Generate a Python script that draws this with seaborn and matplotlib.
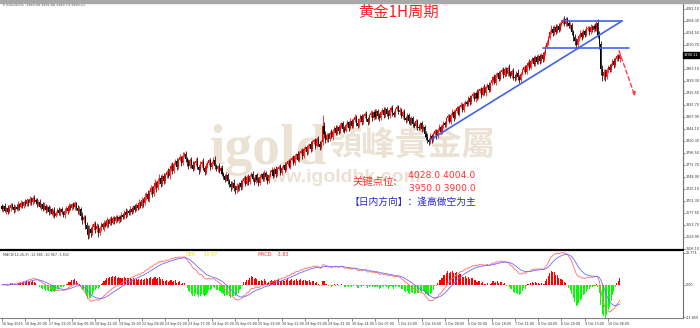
import numpy as np
import pandas as pd
import matplotlib
matplotlib.use("Agg")
import matplotlib.pyplot as plt
import matplotlib.transforms as mtransforms
import seaborn as sns

# ---------------- data ----------------
first_open = 3690.0
closes = [
    3684, 3690, 3681, 3687, 3679, 3686, 3693, 3688, 3682, 3689, 3685, 3694, 3689, 3697, 3690, 3698,
    3694, 3702, 3696, 3704, 3698, 3707, 3699, 3703, 3694, 3698, 3689, 3694, 3685, 3691, 3683, 3688,
    3679, 3684, 3675, 3681, 3671, 3677, 3683, 3676, 3684, 3678, 3672, 3680, 3687, 3681, 3690, 3686,
    3694, 3688, 3696, 3687, 3680, 3684, 3671, 3662, 3668, 3652, 3644, 3633, 3645, 3637, 3649, 3654,
    3644, 3650, 3636, 3646, 3654, 3648, 3657, 3651, 3662, 3655, 3664, 3657, 3667, 3660, 3668, 3661,
    3669, 3664, 3673, 3668, 3679, 3672, 3681, 3676, 3685, 3679, 3690, 3683, 3692, 3687, 3697, 3690,
    3703, 3696, 3709, 3714, 3705, 3719, 3726, 3715, 3730, 3736, 3726, 3741, 3746, 3735, 3749, 3740,
    3751, 3758, 3749, 3764, 3770, 3760, 3774, 3779, 3768, 3782, 3787, 3776, 3790, 3794, 3783, 3777,
    3770, 3781, 3772, 3764, 3776, 3780, 3768, 3761, 3773, 3778, 3765, 3758, 3769, 3775, 3781, 3768,
    3776, 3782, 3770, 3763, 3769, 3760, 3765, 3754, 3750, 3743, 3752, 3741, 3735, 3728, 3737, 3726,
    3722, 3730, 3724, 3736, 3728, 3740, 3746, 3735, 3747, 3738, 3750, 3754, 3744, 3739, 3751, 3743,
    3737, 3748, 3753, 3744, 3756, 3747, 3740, 3751, 3757, 3761, 3750, 3763, 3753, 3764, 3768, 3756,
    3766, 3771, 3762, 3774, 3779, 3768, 3782, 3786, 3775, 3789, 3793, 3782, 3796, 3800, 3789, 3803,
    3807, 3797, 3809, 3813, 3803, 3817, 3821, 3810, 3823, 3814, 3808, 3817, 3850, 3834, 3822, 3831,
    3824, 3836, 3828, 3840, 3845, 3835, 3848, 3839, 3850, 3855, 3844, 3840, 3852, 3857, 3846, 3859,
    3849, 3861, 3866, 3855, 3850, 3862, 3868, 3857, 3869, 3873, 3862, 3858, 3870, 3875, 3864, 3877,
    3866, 3879, 3869, 3864, 3876, 3881, 3870, 3883, 3873, 3868, 3880, 3885, 3874, 3870, 3882, 3887,
    3876, 3880, 3868, 3877, 3865, 3861, 3871, 3860, 3855, 3865, 3853, 3849, 3859, 3848, 3845, 3855,
    3843, 3847, 3834, 3828, 3822, 3818, 3830, 3822, 3834, 3839, 3829, 3842, 3847, 3837, 3850, 3855,
    3851, 3864, 3868, 3858, 3871, 3876, 3865, 3879, 3884, 3873, 3887, 3891, 3880, 3893, 3897, 3892,
    3904, 3896, 3908, 3912, 3902, 3915, 3905, 3918, 3922, 3911, 3925, 3914, 3927, 3931, 3920, 3934,
    3940, 3946, 3935, 3950, 3954, 3943, 3957, 3961, 3950, 3962, 3952, 3965, 3954, 3948, 3959, 3947,
    3944, 3955, 3946, 3941, 3953, 3961, 3966, 3956, 3970, 3975, 3965, 3978, 3983, 3972, 3986, 3976,
    3987, 3978, 3990, 3981, 3994, 4006, 4014, 4024, 4036, 4042, 4033, 4045, 4036, 4048, 4040, 4051,
    4054, 4060, 4051, 4061, 4053, 4047, 4049, 4036, 4025, 4017, 4010, 4021, 4028, 4034, 4026, 4038,
    4030, 4041, 4044, 4035, 4046, 4039, 4048, 4041, 4054, 4030, 4012, 3962, 3948, 3957, 3946, 3960,
    3967, 3960, 3972, 3978, 3970, 3982, 3987, 3981, 3990.11,
]
upper_wick = [
    4,3,6,2,5,7,3,4,6,3,5,7,3,5,4,3,
    6,4,3,7,4,3,5,4,3,5,6,3,4,7,3,4,
    4,6,3,4,7,3,4,6,3,5,3,6,4,3,6,4,
    3,5,4,3,5,6,4,7,5,4,6,8,7,4,6,5,
    6,7,4,5,4,3,6,4,7,3,4,6,3,4,5,4,
    4,3,6,4,3,7,4,3,6,4,3,5,4,3,7,4,
    6,4,7,5,8,4,7,5,4,8,5,4,7,5,4,7,
    5,4,7,3,6,8,4,5,7,4,6,3,7,4,6,4,
    7,4,6,8,4,5,7,4,6,3,7,4,6,4,3,5,
    4,6,7,4,3,6,4,7,3,4,6,4,3,6,4,7,
    6,7,4,3,6,4,3,5,4,7,3,4,6,4,3,5,
    4,6,3,4,5,4,7,3,4,6,3,4,6,3,4,5,
    4,3,6,4,3,5,4,3,6,4,3,7,4,3,5,4,
    3,5,4,3,6,4,3,5,4,7,5,4,20,7,5,4,
    5,4,7,3,4,6,3,4,5,3,4,6,3,4,3,5,
    4,3,6,4,7,3,4,5,3,4,6,4,3,5,4,3,
    5,4,3,6,4,3,5,4,3,7,4,3,5,4,3,4,
    4,6,4,3,5,4,3,4,6,3,4,5,3,4,6,3,
    4,5,4,5,7,4,6,4,3,5,4,3,6,4,3,5,
    4,3,5,4,3,6,4,3,5,4,3,6,4,3,4,3,
    4,6,3,4,5,3,7,4,3,5,4,7,3,4,6,3,
    4,3,6,4,3,5,4,3,6,4,5,3,7,4,3,5,
    6,4,7,4,3,4,3,5,4,3,6,4,3,5,4,3,
    4,5,3,6,4,3,6,4,3,7,5,4,6,4,5,4,
    5,4,7,5,4,6,7,5,4,6,7,4,3,6,4,3,
    4,6,3,4,5,4,3,5,6,8,7,6,8,6,5,4,
    4,5,3,4,5,3,4,4,3,
]
lower_wick = [
    3,5,3,6,4,3,5,3,6,4,3,5,6,3,4,3,
    4,3,6,3,5,6,3,4,6,4,3,6,4,3,6,4,
    6,4,3,6,5,3,4,3,6,4,3,5,3,6,3,4,
    4,3,6,4,6,7,8,7,6,8,9,7,6,8,5,6,
    7,6,8,4,6,4,7,3,4,6,3,4,3,6,4,3,
    4,6,3,4,3,6,3,4,3,5,3,4,3,5,3,4,
    4,7,3,6,4,7,5,7,4,6,8,4,6,7,4,6,
    4,6,3,5,4,7,4,3,6,4,3,6,4,3,6,7,
    6,4,7,4,3,6,4,7,4,6,4,7,4,3,4,6,
    4,3,6,4,6,4,7,4,6,4,3,7,6,7,4,6,
    7,6,4,3,6,4,3,4,3,6,4,3,4,6,3,4,
    6,4,3,4,3,4,6,4,3,4,4,3,6,4,3,4,
    4,3,4,3,4,3,5,3,4,3,5,3,4,3,5,3,
    4,6,3,4,6,3,4,6,3,4,6,4,6,8,7,4,
    6,4,3,6,4,3,4,6,3,4,6,4,3,4,6,3,
    4,3,4,6,4,3,4,6,3,4,3,6,4,3,4,3,
    4,3,6,4,3,4,6,3,4,6,3,4,6,3,4,3,
    4,6,4,6,4,6,3,6,4,3,6,4,3,6,4,3,
    6,4,6,7,6,7,4,6,4,3,6,4,3,4,3,4,
    4,3,4,3,4,3,5,3,4,3,5,3,4,3,4,3,
    4,6,3,4,3,6,4,3,4,6,3,4,6,3,4,3,
    3,4,3,4,3,4,3,4,6,3,4,3,6,4,3,6,
    6,4,6,7,4,3,4,3,4,3,4,3,4,3,4,3,
    4,6,3,4,3,4,3,4,3,4,6,3,4,3,4,3,
    4,3,4,3,6,4,6,7,8,7,8,4,3,4,6,3,
    4,3,4,6,3,4,3,4,3,7,10,12,9,7,8,4,
    6,4,3,4,6,3,4,3,4,
]
time_labels = [
    "16 Sep 2025", "16 Sep 20:00", "17 Sep 13:00", "18 Sep 06:00", "18 Sep 22:00",
    "19 Sep 15:00", "22 Sep 08:00", "23 Sep 01:00", "23 Sep 17:00", "24 Sep 10:00",
    "25 Sep 03:00", "25 Sep 19:00", "26 Sep 12:00", "29 Sep 05:00", "29 Sep 21:00",
    "30 Sep 14:00", "1 Oct 07:00", "1 Oct 23:00", "2 Oct 16:00", "3 Oct 09:00",
    "6 Oct 02:00", "6 Oct 18:00", "7 Oct 11:00", "8 Oct 04:00", "8 Oct 20:00",
    "9 Oct 13:00", "10 Oct 06:00",
]
price_ticks = [4082.1, 4058.3, 4034.5, 4010.7, 3963.1, 3939.3, 3915.5, 3891.7,
               3867.9, 3844.1, 3820.3, 3796.5, 3772.7, 3748.9, 3725.1, 3701.3, 3677.5,
               3653.7, 3629.9, 3606.1]
key_levels_up = "4028.0 4004.0"
key_levels_dn = "3950.0 3900.0"
last_price = 3990.11

# ---------------- derived candle arrays ----------------
closes = np.asarray(closes, float)
n = len(closes)
assert len(upper_wick) == n and len(lower_wick) == n, (n, len(upper_wick), len(lower_wick))
idx = np.arange(n)
opens = np.r_[first_open, closes[:-1]]
body_lo = np.minimum(opens, closes)
body_hi = np.maximum(opens, closes)
highs = body_hi + np.asarray(upper_wick, float)
lows = body_lo - np.asarray(lower_wick, float)
bull = closes >= opens
ccol = np.where(bull, "#ff0000", "#000000")

s = pd.Series(closes)
dif = s.ewm(span=12, adjust=False).mean() - s.ewm(span=26, adjust=False).mean()
dea = dif.ewm(span=9, adjust=False).mean()
hist = 2 * (dif - dea)

# ---------------- figure ----------------
sns.set_theme(style="white")
plt.rcParams["font.family"] = ["DejaVu Sans"]
W, H = 700, 328
fig = plt.figure(figsize=(7, 3.28), dpi=100)
fig.patch.set_facecolor("white")

def bx(px):
    return (px - 2) / 1.457

RIGHT = 683
ax = fig.add_axes([0, 1 - 250 / H, RIGHT / W, (250 - 2.5) / H])
axm = fig.add_axes([0, 1 - 318 / H, RIGHT / W, (318 - 252) / H])
for a in (ax, axm):
    a.set_facecolor("white")
    a.set_xlim(bx(0), bx(RIGHT))
    for sp in ("top", "left"):
        a.spines[sp].set_visible(False)
    a.spines["right"].set_color("#707070")
    a.spines["right"].set_linewidth(0.8)
ax.spines["bottom"].set_color("#000000")
ax.spines["bottom"].set_linewidth(1.6)
axm.spines["bottom"].set_color("#808080")
axm.spines["bottom"].set_linewidth(0.8)

ax.set_ylim(3603.2, 4094.0)

# candles
ax.vlines(idx, lows, highs, colors=ccol, linewidth=0.55, zorder=2)
ax.bar(idx, np.maximum(body_hi - body_lo, 0.8), bottom=body_lo, width=0.72,
       color=ccol, linewidth=0, zorder=3)

# watermark
wm = "#ebe2d4"
ax.text(268 / W, 1 - 150 / H, "igold", transform=fig.transFigure, ha="center", va="center",
        fontsize=40, fontweight="bold", family="Liberation Serif", color=wm, zorder=0.5)
ax.text(412 / W, 1 - 145 / H, "領峰貴金屬", transform=fig.transFigure, ha="center", va="center",
        fontsize=24, fontweight="bold", family=["Noto Sans CJK TC", "DejaVu Sans"], color=wm, zorder=0.5)
ax.text(338 / W, 1 - 178 / H, "www.igoldhk.com", transform=fig.transFigure, ha="center", va="center",
        fontsize=14, fontweight="bold", family="Liberation Sans", color=wm, zorder=0.5)

# drawn pattern lines
blue = "#4262ee"
ax.plot([bx(430), bx(622)], [3821.3, 4057.3], color=blue, lw=1.2, zorder=4)
ax.plot([bx(562), bx(622)], [4057.3, 4057.3], color=blue, lw=1.2, zorder=4)
ax.plot([bx(543), bx(629)], [4004.0, 4004.0], color=blue, lw=1.2, zorder=4)
ax.annotate("", xy=(bx(636), 3902.6), xytext=(bx(618), 4004.0),
            arrowprops=dict(arrowstyle="-|>", color="#ff4040", lw=1.0, ls=(0, (3, 2)),
                            mutation_scale=5), zorder=5)

# right price axis
ax.yaxis.tick_right()
ax.set_yticks(price_ticks)
ax.set_yticklabels([f"{v:.2f}" for v in price_ticks])
ax.tick_params(axis="y", right=True, left=False, length=1.5, width=0.4, pad=0.6,
               labelsize=2.4, colors="#333333")
ax.tick_params(axis="x", bottom=False, labelbottom=False)
trans = mtransforms.blended_transform_factory(ax.transAxes, ax.transData)
ax.text(1.001, last_price, f"{last_price:.2f}", transform=trans, ha="left", va="center",
        fontsize=2.5, color="white", zorder=10, clip_on=False,
        bbox=dict(boxstyle="square,pad=0.3", fc="black", ec="black"))

# MACD
axm.set_ylim(-23.57, 23.48)
axm.bar(idx, hist.values, width=0.72, color=np.where(hist.values >= 0, "#ff0000", "#00ff00"),
        linewidth=0, zorder=2)
sns.lineplot(x=idx, y=dif.values, ax=axm, color="#ff6a6a", lw=0.6, zorder=3)
sns.lineplot(x=idx, y=dea.values, ax=axm, color="#6a6aff", lw=0.6, zorder=3)
axm.yaxis.tick_right()
axm.set_yticks([22.771, 0.0, -22.859])
axm.set_yticklabels(["22.771", "0.00", "-22.859"])
axm.tick_params(axis="y", right=True, left=False, length=1.5, width=0.4, pad=0.6,
                labelsize=2.4, colors="#333333")
xt = np.arange(len(time_labels)) * 16
axm.set_xticks(xt)
axm.set_xticklabels(time_labels, ha="left")
axm.tick_params(axis="x", bottom=True, length=2, width=0.4, pad=1.2,
                labelsize=2.35, colors="#333333")

# texts
def ptext(px, py, txt, **kw):
    fig.text(px / W, 1 - py / H, txt, **kw)

fig.patches.append(plt.Rectangle((0, 1 - 2.5 / H), 1, 2.5 / H, transform=fig.transFigure,
                                 color="#a8a8a8", zorder=20))
ptext(3, 5, "\u25be GOLDS,H1  3989.58 3992.84 3983.79 3990.11", fontsize=2.4,
      color="#404040", va="center", ha="left")
ptext(358, 12, "黄金1H周期", fontsize=11, color="#ff2020", va="center", ha="left",
      family=["Noto Sans CJK SC", "DejaVu Sans"], zorder=30)
ptext(352, 182, "关键点位:", fontsize=7.5, color="#ff3030", va="center", ha="left",
      family=["Noto Sans CJK SC", "DejaVu Sans"], zorder=30)
ptext(408, 175, key_levels_up, fontsize=6.6, color="#ff3030", va="center", ha="left", zorder=30)
ptext(409, 188.5, key_levels_dn, fontsize=6.6, color="#ff3030", va="center", ha="left", zorder=30)
ptext(350, 202, "【日内方向】：逢高做空为主", fontsize=7, color="#2a2ad0", va="center", ha="left",
      family=["Noto Sans CJK SC", "DejaVu Sans"], zorder=30)
ptext(3, 254.5, "MACD(12,26,9) -12.885 -10.967 -3.832", fontsize=2.4, color="#404040",
      va="center", ha="left")
ptext(185, 254.5, "DEA:", fontsize=3.4, color="#e0e000", va="center", ha="left")
ptext(203, 254.5, "-10.97", fontsize=3.4, color="#e0e000", va="center", ha="left")
ptext(257, 254.5, "MACD:", fontsize=3.4, color="#ff3030", va="center", ha="left")
ptext(277, 254.5, "-3.83", fontsize=3.4, color="#ff3030", va="center", ha="left")

fig.savefig("out.png", dpi=100, facecolor="white")
